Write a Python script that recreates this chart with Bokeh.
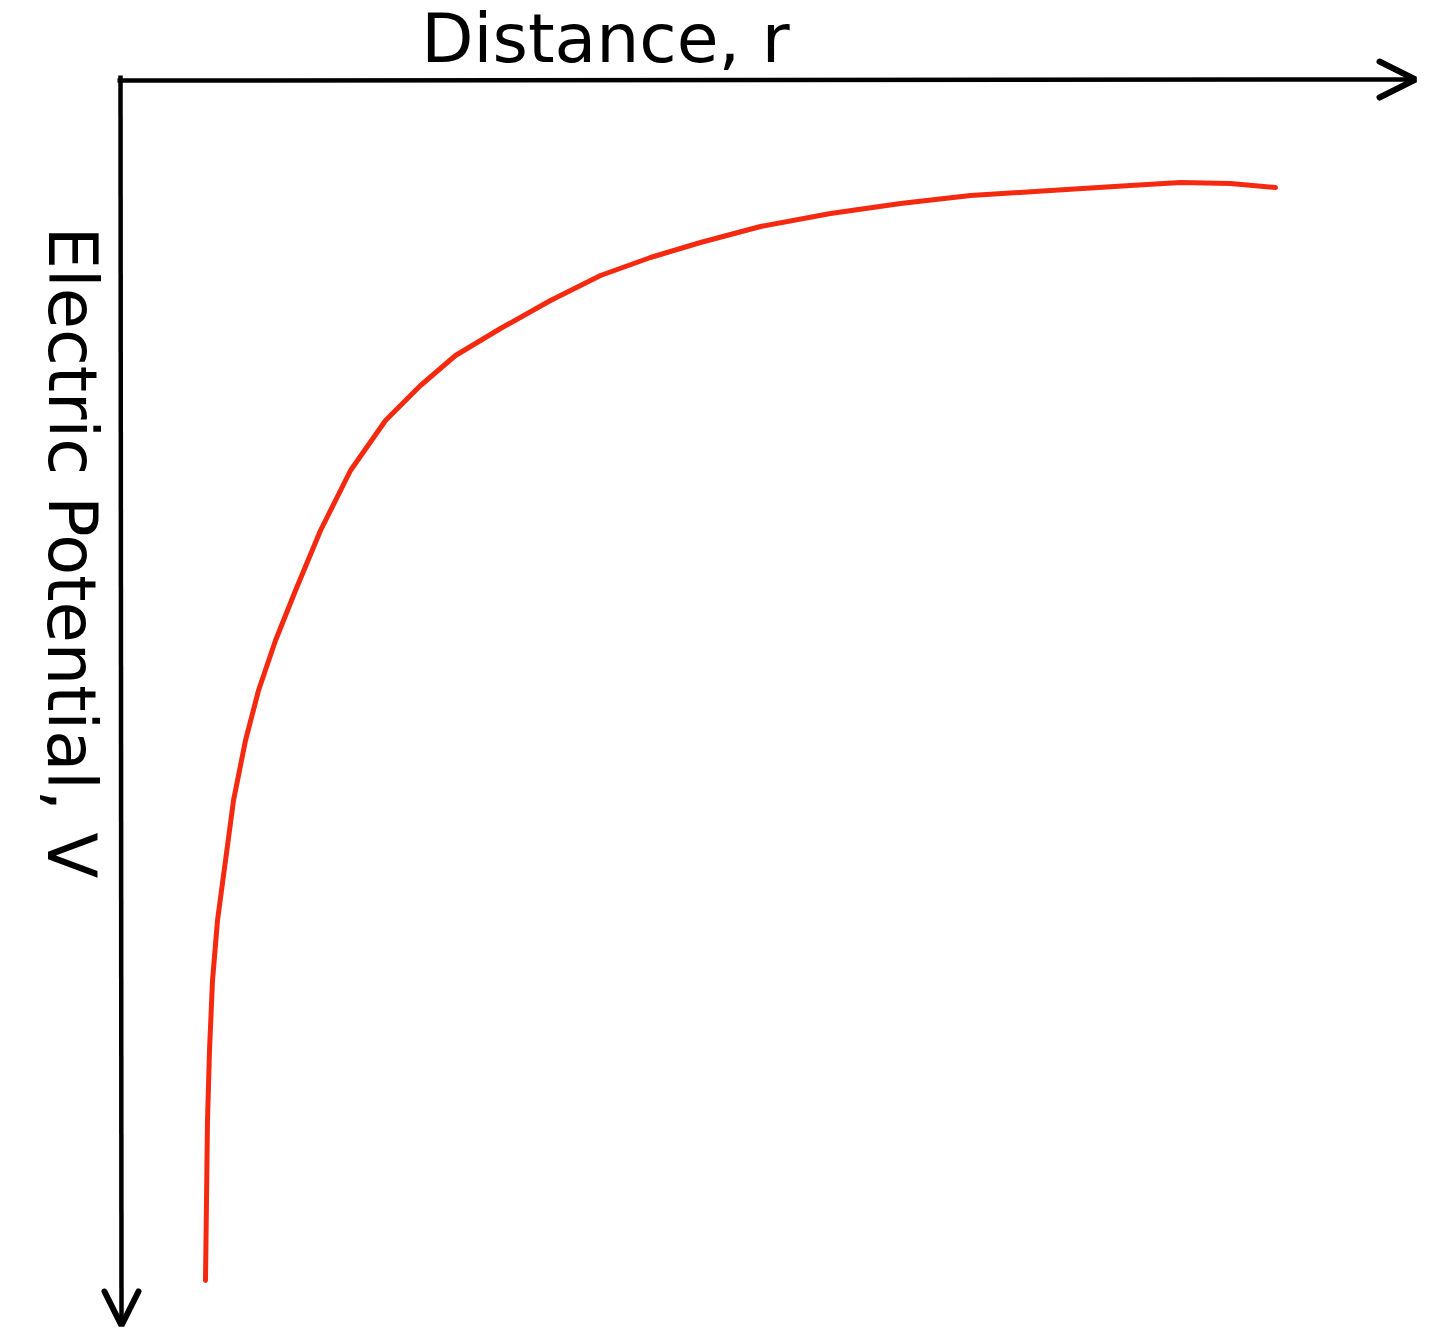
from bokeh.plotting import figure
from bokeh.models import Range1d, Arrow, OpenHead
from bokeh.core.properties import value
from bokeh.embed import file_html
from bokeh.resources import INLINE

# Data (distance r, electric potential V; arbitrary units)
distance = [0.85, 0.86, 0.87, 0.89, 0.92, 0.97, 1.05, 1.13, 1.25, 1.38, 1.55, 1.75,
            2.00, 2.30, 2.65, 3.00, 3.35, 3.80, 4.30, 4.80, 5.30, 5.80, 6.40, 7.10,
            7.80, 8.50, 9.30, 10.10, 10.60, 11.10, 11.55]
potential = [-12.00, -11.20, -10.40, -9.70, -9.00, -8.40, -7.80, -7.20, -6.60, -6.10,
             -5.60, -5.10, -4.50, -3.90, -3.40, -3.05, -2.75, -2.48, -2.20, -1.95,
             -1.77, -1.62, -1.46, -1.33, -1.23, -1.15, -1.10, -1.05, -1.02, -1.03, -1.07]

x_label = "Distance, r"
y_label = "Electric Potential, V"

# axis extents (sketch frame)
X_END = 12.95
Y_END = -12.45

W, H = 1428, 1328
p = figure(width=W, height=H, output_backend="svg", toolbar_location=None,
           x_range=Range1d(-1.20, -1.20 + W / 100), y_range=Range1d(0.80 - H / 100, 0.80),
           min_border=0, outline_line_color=None)
p.axis.visible = False
p.grid.visible = False
p.background_fill_color = "white"
p.border_fill_color = "white"

# hand-drawn axes with open arrowheads
p.add_layout(Arrow(x_start=-0.03, y_start=0.0, x_end=X_END, y_end=0.01,
                   line_color="black", line_width=4.5,
                   end=OpenHead(size=36, line_width=6, line_color="black", line_cap="round")))
p.add_layout(Arrow(x_start=0.0, y_start=0.05, x_end=0.01, y_end=Y_END,
                   line_color="black", line_width=4.5,
                   end=OpenHead(size=34, line_width=6, line_color="black", line_cap="round")))

# curve
p.line(distance, potential, line_color="#f4290f", line_width=5,
       line_join="round", line_cap="round")

# labels
p.text(x=[4.85], y=[0.42], text=[x_label], text_font=value("DejaVu Sans"),
       text_font_size="68px", text_align="center", text_baseline="middle",
       text_color="black")
p.text(x=[-0.49], y=[-4.72], text=[y_label], text_font=value("DejaVu Sans"),
       text_font_size="67px", text_align="center", text_baseline="middle",
       text_color="black", angle=-1.5708)

open("out.html", "w").write(file_html(p, INLINE))
